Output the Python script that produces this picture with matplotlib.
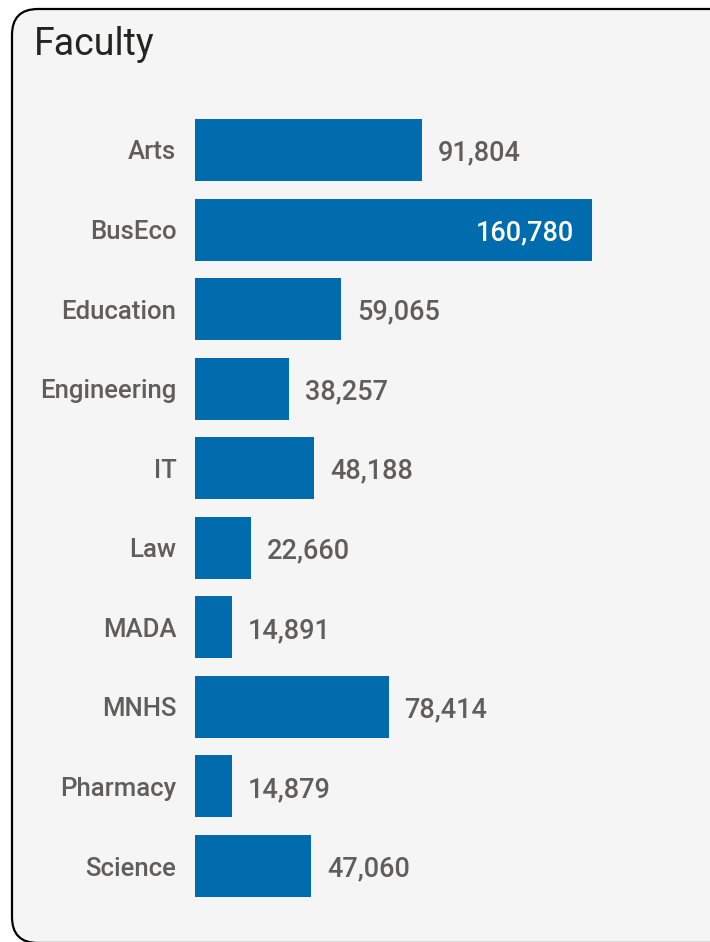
import matplotlib
matplotlib.use("Agg")
import matplotlib.pyplot as plt
from matplotlib.patches import FancyBboxPatch

faculties = ["Arts", "BusEco", "Education", "Engineering", "IT", "Law",
             "MADA", "MNHS", "Pharmacy", "Science"]
students = [91804, 160780, 59065, 38257, 48188, 22660, 14891, 78414, 14879, 47060]

W, H, DPI = 710, 942, 100
BAR_COLOR = "#006cae"
TEXT_GREY = "#605e5c"
TITLE_COLOR = "#252423"
PANEL_BG = "#f5f5f5"
FONT = ["Roboto", "DejaVu Sans"]

fig = plt.figure(figsize=(W / DPI, H / DPI), dpi=DPI)
fig.patch.set_facecolor("white")

# background panel with rounded corners, in pixel units
bg = fig.add_axes([0, 0, 1, 1], zorder=0)
bg.set_xlim(0, W)
bg.set_ylim(H, 0)
bg.axis("off")
panel = FancyBboxPatch((12, 9), W + 40, H - 8,
                       boxstyle="round,pad=0,rounding_size=26",
                       facecolor=PANEL_BG, edgecolor="black", linewidth=1.6)
bg.add_patch(panel)
bg.text(34, 55, "Faculty", fontsize=27, color=TITLE_COLOR, family=FONT,
        ha="left", va="baseline")

# bar chart area
left_px, right_px = 195, 660
top_px, bot_px = 110.2, 905.8
ax = fig.add_axes([left_px / W, 1 - bot_px / H,
                   (right_px - left_px) / W, (bot_px - top_px) / H], zorder=1)
ax.patch.set_alpha(0)
scale_max = max(students) * (right_px - left_px) / (592 - 195)
ax.set_xlim(0, scale_max)
ax.set_ylim(len(faculties) - 0.5, -0.5)
ypos = list(range(len(faculties)))
ax.barh(ypos, students, height=0.78, color=BAR_COLOR)
for s in ax.spines.values():
    s.set_visible(False)
ax.set_xticks([])
ax.set_yticks(ypos)
ax.set_yticklabels(faculties, fontsize=18.5, color=TEXT_GREY, family=FONT,
                   fontweight="medium", va="center_baseline")
ax.tick_params(axis="y", length=0, pad=13.5)

vmax = max(students)
for y, v in zip(ypos, students):
    label = f"{v:,}"
    if v == vmax:
        ax.annotate(label, (v, y), xytext=(-18, 0), textcoords="offset pixels",
                    ha="right", va="center_baseline", fontsize=19.5,
                    color="white", family=FONT, fontweight="medium")
    else:
        ax.annotate(label, (v, y), xytext=(16, 0), textcoords="offset pixels",
                    ha="left", va="center_baseline", fontsize=19.5,
                    color=TEXT_GREY, family=FONT, fontweight="medium")

fig.savefig("out.png", dpi=DPI, facecolor="white")
